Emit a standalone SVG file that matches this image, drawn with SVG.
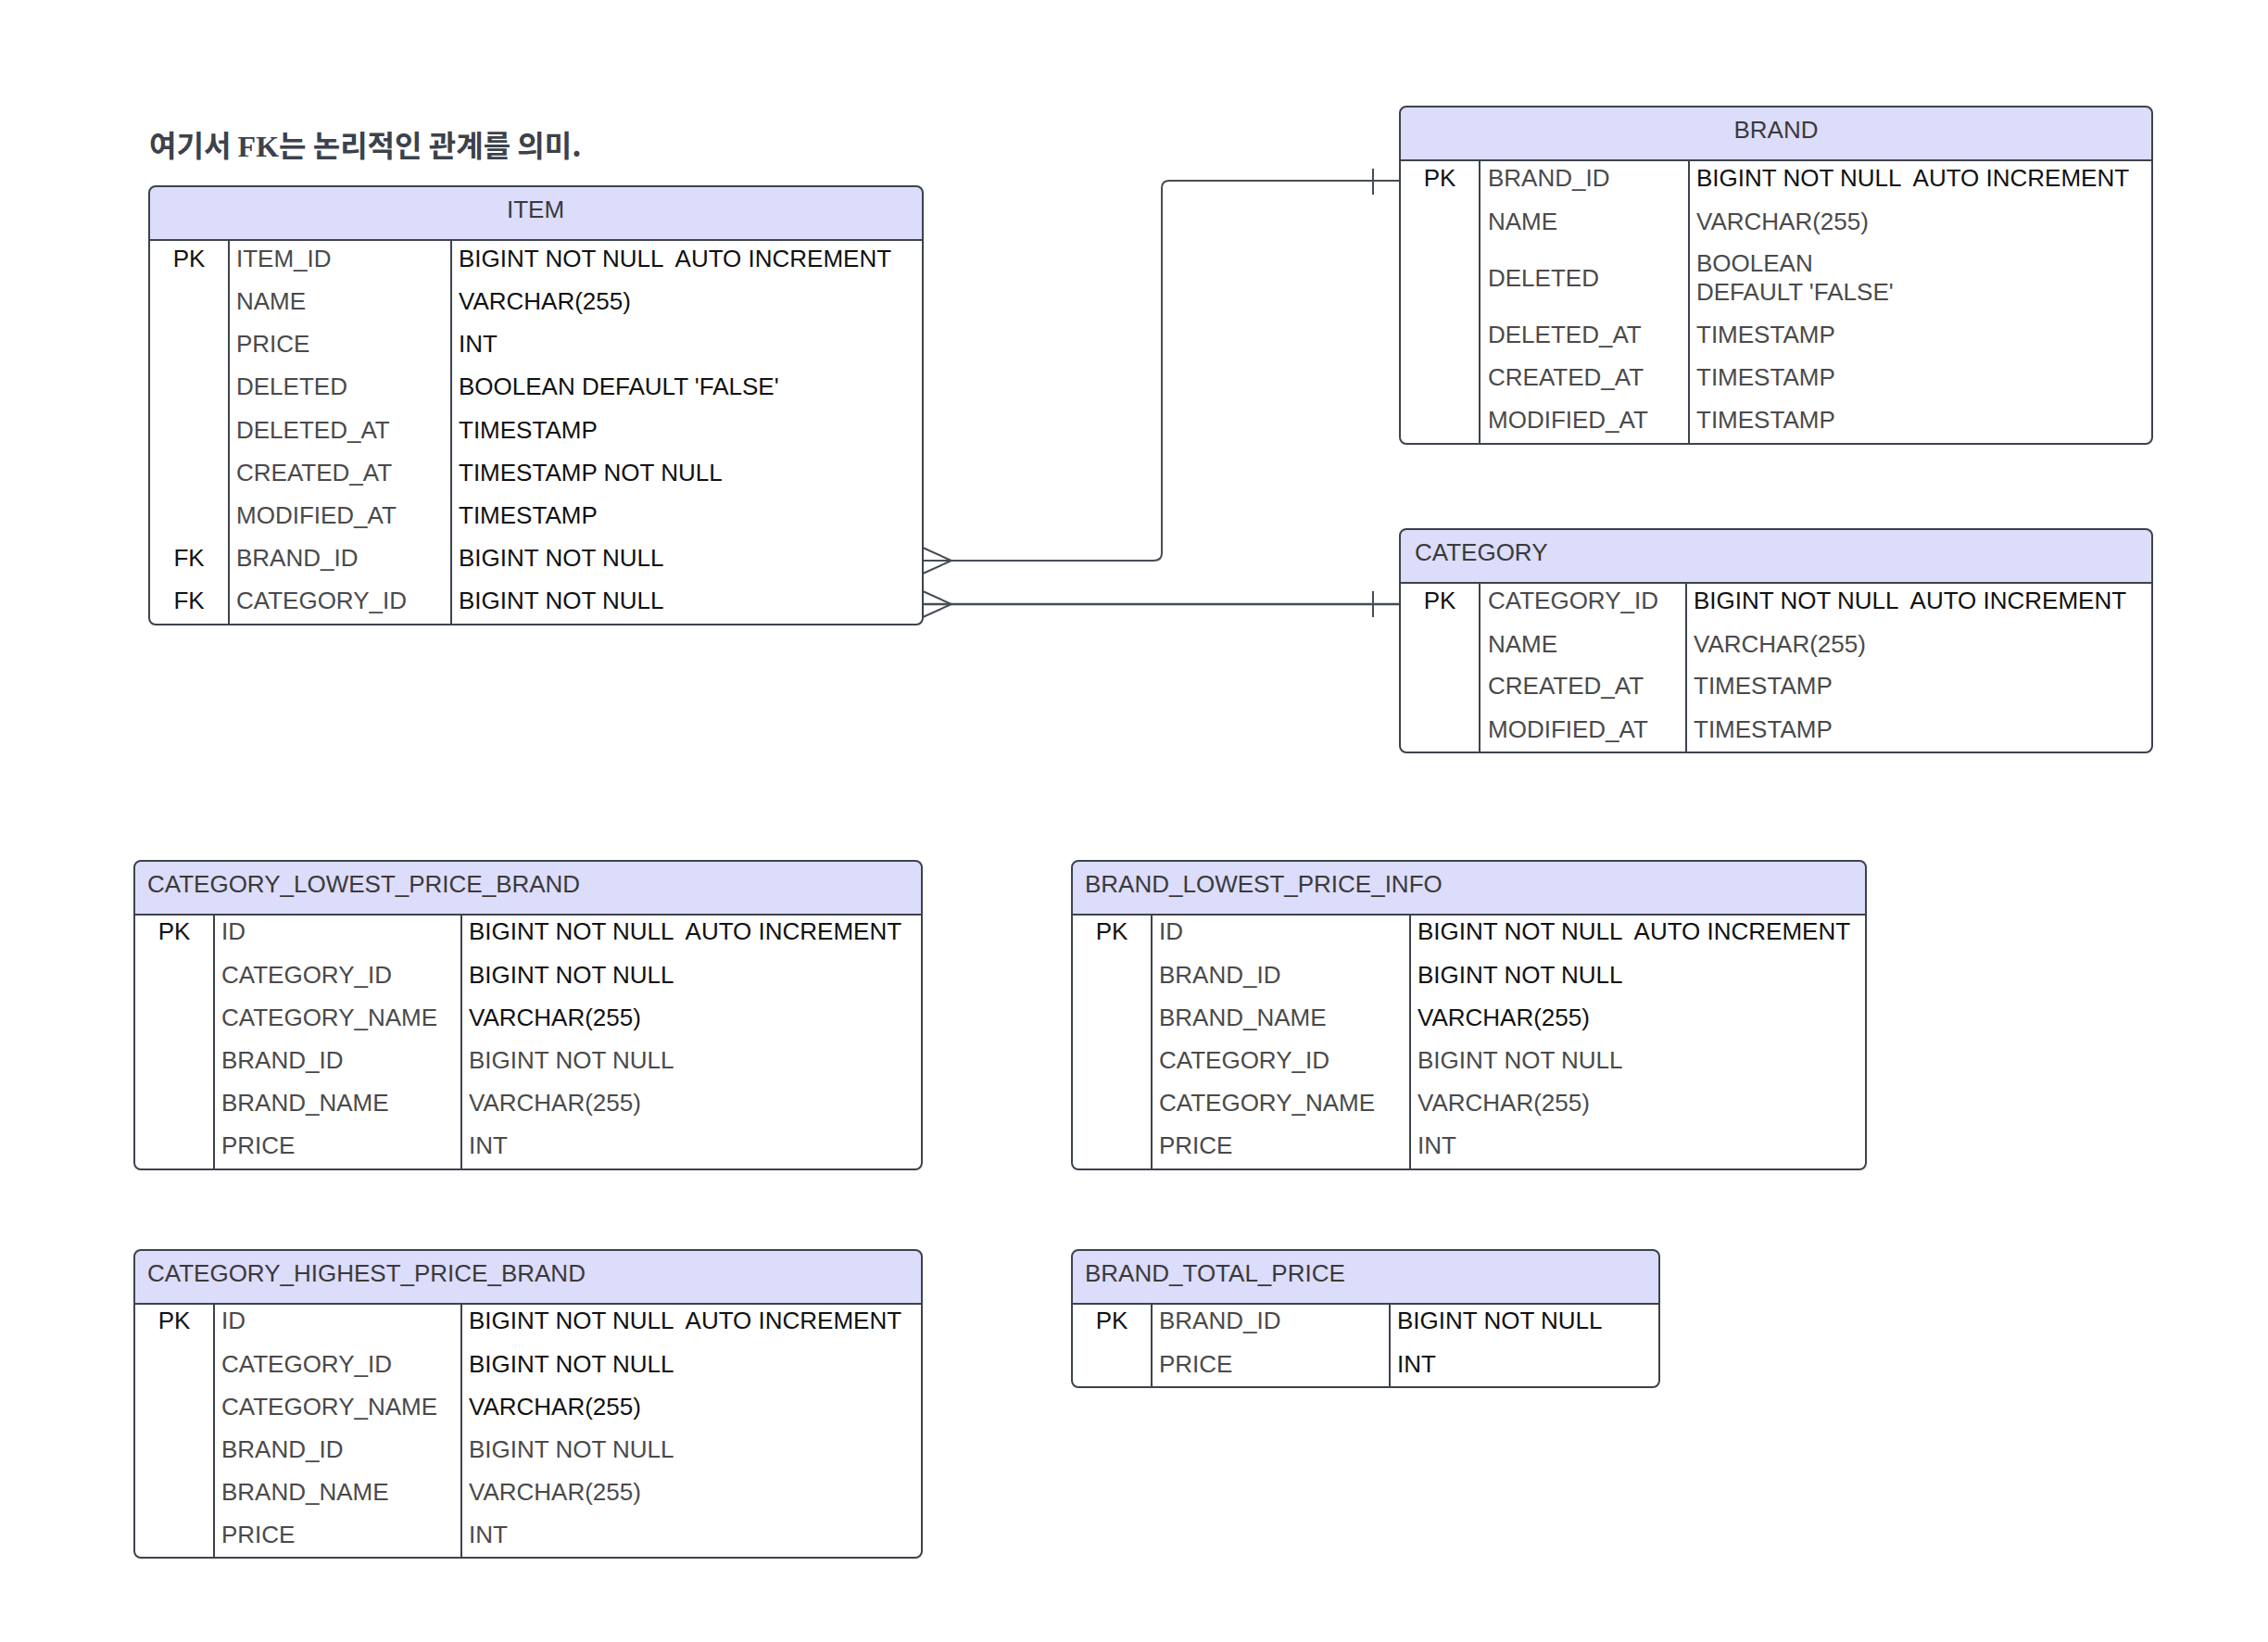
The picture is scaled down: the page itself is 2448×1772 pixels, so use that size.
<svg xmlns="http://www.w3.org/2000/svg" width="2448" height="1772" viewBox="0 0 2448 1772">
<style>
.bg{fill:#fff}
.box{fill:none;stroke:#3d434c;stroke-width:2}
.hdr{fill:#dcdcfb}
.ln{stroke:#3d434c;stroke-width:2;fill:none}
.t{font-family:"Liberation Sans",Arial,sans-serif;font-size:26px}
.h{fill:#3a3a3a}
.n{fill:#4a4a4a}
.v{fill:#111}
.g{fill:#4a4a4a}
.k{fill:#111;text-anchor:middle}
.c{text-anchor:middle}
.conn{stroke:#474d56;stroke-width:2;fill:none}
</style>
<rect class="bg" x="0" y="0" width="2448" height="1772"/>
<text x="161" y="169" style="font-family:'Noto Sans CJK KR','Noto Sans',sans-serif;font-size:32px;font-weight:700;fill:#3c424b">여기서 <tspan style="font-family:'Liberation Serif','Noto Serif',serif;font-weight:700">FK</tspan>는 논리적인 관계를 의미.</text>

<g id="connectors">
  <path class="conn" d="M996,605 H1245 Q1254,605 1254,597 V203 Q1254,195 1262,195 H1511"/>
  <path class="conn" d="M996,591 L1027,605 L996,619"/>
  <path class="conn" d="M1482,182 V210"/>
  <path class="conn" d="M996,652 H1511" style="stroke-width:2.5"/>
  <path class="conn" d="M996,638 L1027,652 L996,666"/>
  <path class="conn" d="M1482,638 V666"/>
</g>

<g id="item">
  <rect x="161" y="201" width="835" height="473" rx="7" fill="#fff"/>
  <path class="hdr" d="M161,259 V208 Q161,201 168,201 H989 Q996,201 996,208 V259 Z"/>
  <rect class="box" x="161" y="201" width="835" height="473" rx="7"/>
  <path class="ln" d="M161,259 H996 M247,259 V674 M487,259 V674"/>
  <text class="t h c" x="578" y="235">ITEM</text>
  <text class="t k" x="204" y="288">PK</text>
  <text class="t k" x="204" y="611">FK</text>
  <text class="t k" x="204" y="657">FK</text>
  <g class="t n">
    <text x="255" y="288">ITEM_ID</text>
    <text x="255" y="334">NAME</text>
    <text x="255" y="380">PRICE</text>
    <text x="255" y="426">DELETED</text>
    <text x="255" y="473">DELETED_AT</text>
    <text x="255" y="519">CREATED_AT</text>
    <text x="255" y="565">MODIFIED_AT</text>
    <text x="255" y="611">BRAND_ID</text>
    <text x="255" y="657">CATEGORY_ID</text>
  </g>
  <g class="t v">
    <text x="495" y="288" xml:space="preserve">BIGINT NOT NULL  AUTO INCREMENT</text>
    <text x="495" y="334">VARCHAR(255)</text>
    <text x="495" y="380">INT</text>
    <text x="495" y="426">BOOLEAN DEFAULT 'FALSE'</text>
    <text x="495" y="473">TIMESTAMP</text>
    <text x="495" y="519">TIMESTAMP NOT NULL</text>
    <text x="495" y="565">TIMESTAMP</text>
    <text x="495" y="611">BIGINT NOT NULL</text>
    <text x="495" y="657">BIGINT NOT NULL</text>
  </g>
</g>

<g id="brand">
  <rect x="1511" y="115" width="812" height="364" rx="7" fill="#fff"/>
  <path class="hdr" d="M1511,173 V122 Q1511,115 1518,115 H2316 Q2323,115 2323,122 V173 Z"/>
  <rect class="box" x="1511" y="115" width="812" height="364" rx="7"/>
  <path class="ln" d="M1511,173 H2323 M1597,173 V479 M1823,173 V479"/>
  <text class="t h c" x="1917" y="149">BRAND</text>
  <text class="t k" x="1554" y="201">PK</text>
  <g class="t n">
    <text x="1606" y="201">BRAND_ID</text>
    <text x="1606" y="248">NAME</text>
    <text x="1606" y="309">DELETED</text>
    <text x="1606" y="370">DELETED_AT</text>
    <text x="1606" y="416">CREATED_AT</text>
    <text x="1606" y="462">MODIFIED_AT</text>
  </g>
  <text class="t v" x="1831" y="201" xml:space="preserve">BIGINT NOT NULL  AUTO INCREMENT</text>
  <g class="t g">
    <text x="1831" y="248">VARCHAR(255)</text>
    <text x="1831" y="293">BOOLEAN</text>
    <text x="1831" y="324">DEFAULT 'FALSE'</text>
    <text x="1831" y="370">TIMESTAMP</text>
    <text x="1831" y="416">TIMESTAMP</text>
    <text x="1831" y="462">TIMESTAMP</text>
  </g>
</g>

<g id="category">
  <rect x="1511" y="571" width="812" height="241" rx="7" fill="#fff"/>
  <path class="hdr" d="M1511,629 V578 Q1511,571 1518,571 H2316 Q2323,571 2323,578 V629 Z"/>
  <rect class="box" x="1511" y="571" width="812" height="241" rx="7"/>
  <path class="ln" d="M1511,629 H2323 M1597,629 V812 M1820,629 V812"/>
  <text class="t h" x="1527" y="605">CATEGORY</text>
  <text class="t k" x="1554" y="657">PK</text>
  <g class="t n">
    <text x="1606" y="657">CATEGORY_ID</text>
    <text x="1606" y="704">NAME</text>
    <text x="1606" y="749">CREATED_AT</text>
    <text x="1606" y="796">MODIFIED_AT</text>
  </g>
  <text class="t v" x="1828" y="657" xml:space="preserve">BIGINT NOT NULL  AUTO INCREMENT</text>
  <g class="t g">
    <text x="1828" y="704">VARCHAR(255)</text>
    <text x="1828" y="749">TIMESTAMP</text>
    <text x="1828" y="796">TIMESTAMP</text>
  </g>
</g>

<g id="category_lowest_price_brand">
  <rect x="145" y="929" width="850" height="333" rx="7" fill="#fff"/>
  <path class="hdr" d="M145,987 V936 Q145,929 152,929 H988 Q995,929 995,936 V987 Z"/>
  <rect class="box" x="145" y="929" width="850" height="333" rx="7"/>
  <path class="ln" d="M145,987 H995 M231,987 V1262 M498,987 V1262"/>
  <text class="t h" x="159" y="963">CATEGORY_LOWEST_PRICE_BRAND</text>
  <text class="t k" x="188" y="1014">PK</text>
  <g class="t n">
    <text x="239" y="1014">ID</text>
    <text x="239" y="1061">CATEGORY_ID</text>
    <text x="239" y="1107">CATEGORY_NAME</text>
    <text x="239" y="1153">BRAND_ID</text>
    <text x="239" y="1199">BRAND_NAME</text>
    <text x="239" y="1245">PRICE</text>
  </g>
  <g class="t v">
    <text x="506" y="1014" xml:space="preserve">BIGINT NOT NULL  AUTO INCREMENT</text>
    <text x="506" y="1061">BIGINT NOT NULL</text>
    <text x="506" y="1107">VARCHAR(255)</text>
  </g>
  <g class="t g">
    <text x="506" y="1153">BIGINT NOT NULL</text>
    <text x="506" y="1199">VARCHAR(255)</text>
    <text x="506" y="1245">INT</text>
  </g>
</g>

<g id="brand_lowest_price_info">
  <rect x="1157" y="929" width="857" height="333" rx="7" fill="#fff"/>
  <path class="hdr" d="M1157,987 V936 Q1157,929 1164,929 H2007 Q2014,929 2014,936 V987 Z"/>
  <rect class="box" x="1157" y="929" width="857" height="333" rx="7"/>
  <path class="ln" d="M1157,987 H2014 M1243,987 V1262 M1522,987 V1262"/>
  <text class="t h" x="1171" y="963">BRAND_LOWEST_PRICE_INFO</text>
  <text class="t k" x="1200" y="1014">PK</text>
  <g class="t n">
    <text x="1251" y="1014">ID</text>
    <text x="1251" y="1061">BRAND_ID</text>
    <text x="1251" y="1107">BRAND_NAME</text>
    <text x="1251" y="1153">CATEGORY_ID</text>
    <text x="1251" y="1199">CATEGORY_NAME</text>
    <text x="1251" y="1245">PRICE</text>
  </g>
  <g class="t v">
    <text x="1530" y="1014" xml:space="preserve">BIGINT NOT NULL  AUTO INCREMENT</text>
    <text x="1530" y="1061">BIGINT NOT NULL</text>
    <text x="1530" y="1107">VARCHAR(255)</text>
  </g>
  <g class="t g">
    <text x="1530" y="1153">BIGINT NOT NULL</text>
    <text x="1530" y="1199">VARCHAR(255)</text>
    <text x="1530" y="1245">INT</text>
  </g>
</g>

<g id="category_highest_price_brand">
  <rect x="145" y="1349" width="850" height="332" rx="7" fill="#fff"/>
  <path class="hdr" d="M145,1407 V1356 Q145,1349 152,1349 H988 Q995,1349 995,1356 V1407 Z"/>
  <rect class="box" x="145" y="1349" width="850" height="332" rx="7"/>
  <path class="ln" d="M145,1407 H995 M231,1407 V1681 M498,1407 V1681"/>
  <text class="t h" x="159" y="1383">CATEGORY_HIGHEST_PRICE_BRAND</text>
  <text class="t k" x="188" y="1434">PK</text>
  <g class="t n">
    <text x="239" y="1434">ID</text>
    <text x="239" y="1481">CATEGORY_ID</text>
    <text x="239" y="1527">CATEGORY_NAME</text>
    <text x="239" y="1573">BRAND_ID</text>
    <text x="239" y="1619">BRAND_NAME</text>
    <text x="239" y="1665">PRICE</text>
  </g>
  <g class="t v">
    <text x="506" y="1434" xml:space="preserve">BIGINT NOT NULL  AUTO INCREMENT</text>
    <text x="506" y="1481">BIGINT NOT NULL</text>
    <text x="506" y="1527">VARCHAR(255)</text>
  </g>
  <g class="t g">
    <text x="506" y="1573">BIGINT NOT NULL</text>
    <text x="506" y="1619">VARCHAR(255)</text>
    <text x="506" y="1665">INT</text>
  </g>
</g>

<g id="brand_total_price">
  <rect x="1157" y="1349" width="634" height="148" rx="7" fill="#fff"/>
  <path class="hdr" d="M1157,1407 V1356 Q1157,1349 1164,1349 H1784 Q1791,1349 1791,1356 V1407 Z"/>
  <rect class="box" x="1157" y="1349" width="634" height="148" rx="7"/>
  <path class="ln" d="M1157,1407 H1791 M1243,1407 V1497 M1500,1407 V1497"/>
  <text class="t h" x="1171" y="1383">BRAND_TOTAL_PRICE</text>
  <text class="t k" x="1200" y="1434">PK</text>
  <g class="t n">
    <text x="1251" y="1434">BRAND_ID</text>
    <text x="1251" y="1481">PRICE</text>
  </g>
  <g class="t v">
    <text x="1508" y="1434">BIGINT NOT NULL</text>
    <text x="1508" y="1481">INT</text>
  </g>
</g>
</svg>
